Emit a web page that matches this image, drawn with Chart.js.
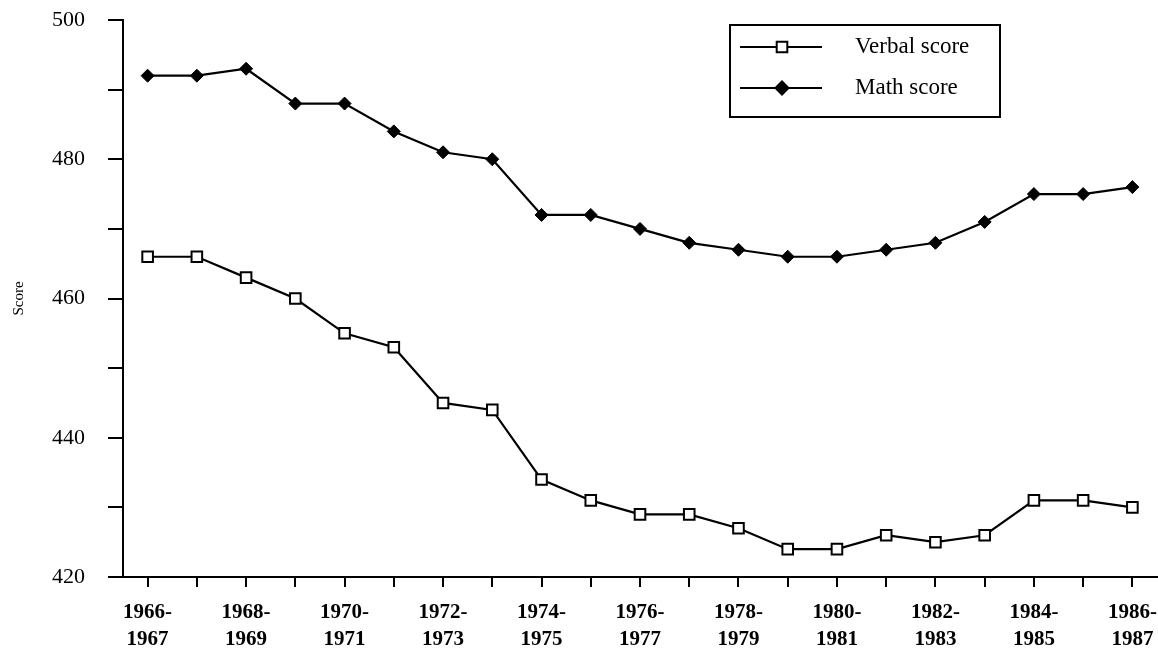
<!DOCTYPE html>
<html>
<head>
<meta charset="utf-8">
<script src="https://cdn.jsdelivr.net/npm/chart.js@4"></script>
<style>
  html, body { margin: 0; background: #fff; }
  #wrap { width: 1158px; height: 648px; }
</style>
</head>
<body>
<div id="wrap"><canvas id="chartScores"></canvas></div>
<script>
const years = ['1966-1967','1967-1968','1968-1969','1969-1970','1970-1971','1971-1972','1972-1973',
  '1973-1974','1974-1975','1975-1976','1976-1977','1977-1978','1978-1979','1979-1980','1980-1981',
  '1981-1982','1982-1983','1983-1984','1984-1985','1985-1986','1986-1987'];
const verbalScore = [466,466,463,460,455,453,445,444,434,431,429,429,427,424,424,426,425,426,431,431,430];
const mathScore = [492,492,493,488,488,484,481,480,472,472,470,468,467,466,466,467,468,471,475,475,476];
const yMin = 420, yMax = 500, yStep = 10, yLabelStep = 20;

(function initChart(){
  const ink = '#000';
  const serif = "'Liberation Serif', 'DejaVu Serif', serif";

  // boxed legend drawn in the upper right, like the original figure
  const boxLegend = {
    id: 'boxLegend',
    afterDraw(chart) {
      const ctx = chart.ctx;
      const x0 = 730, y0 = 25, w = 270, h = 92;
      ctx.save();
      ctx.strokeStyle = ink;
      ctx.lineWidth = 2;
      ctx.strokeRect(x0, y0, w, h);
      chart.data.datasets.forEach((ds, i) => {
        const y = y0 + 22 + i * 41;
        ctx.beginPath();
        ctx.moveTo(x0 + 10, y);
        ctx.lineTo(x0 + 92, y);
        ctx.lineWidth = 2;
        ctx.strokeStyle = ink;
        ctx.stroke();
        ctx.fillStyle = ds.pointBackgroundColor;
        ctx.strokeStyle = ink;
        ctx.lineWidth = 2;
        Chart.helpers.drawPoint(ctx, { pointStyle: ds.pointStyle, radius: ds.pointRadius, borderWidth: 2 }, x0 + 52, y);
        ctx.fillStyle = ink;
        ctx.font = "23px " + serif;
        ctx.textBaseline = 'middle';
        ctx.fillText(ds.label, x0 + 125, y);
      });
      ctx.restore();
    }
  };

  const ctx = document.getElementById('chartScores');
  new Chart(ctx, {
    type: 'line',
    data: {
      labels: years,
      datasets: [
        { label: 'Verbal score', data: verbalScore, borderColor: ink, borderWidth: 2.2,
          pointStyle: 'rect', pointRadius: 7.5, pointBackgroundColor: '#fff', pointBorderColor: ink, pointBorderWidth: 2,
          tension: 0, fill: false },
        { label: 'Math score', data: mathScore, borderColor: ink, borderWidth: 2.2,
          pointStyle: 'rectRot', pointRadius: 6.5, pointBackgroundColor: ink, pointBorderColor: ink, pointBorderWidth: 1,
          tension: 0, fill: false }
      ]
    },
    options: {
      responsive: true,
      maintainAspectRatio: false,
      animation: false,
      layout: { autoPadding: false, padding: { top: 20, right: 1, left: 6, bottom: 0 } },
      plugins: { legend: { display: false }, tooltip: { enabled: false } },
      scales: {
        x: {
          offset: true,
          border: { color: ink, width: 2 },
          grid: { drawOnChartArea: false, drawTicks: true, offset: false, tickLength: 10, color: ink, lineWidth: 2 },
          ticks: {
            autoSkip: false, maxRotation: 0, minRotation: 0, color: ink, padding: 12,
            font: { family: serif, size: 21, weight: 'bold', lineHeight: 1.3 },
            callback: (v, i) => {
              if (i % 2) return '';
              const parts = years[i].split('-');
              return [parts[0] + '-', parts[1]];
            }
          },
          afterFit: s => { s.height = 71; s.paddingLeft = 0; s.paddingRight = 0; }
        },
        y: {
          min: yMin, max: yMax,
          border: { color: ink, width: 2 },
          grid: { drawOnChartArea: false, drawTicks: true, tickLength: 15, color: ink, lineWidth: 2 },
          ticks: {
            stepSize: yStep, color: ink, padding: 23,
            font: { family: serif, size: 22 },
            callback: v => (v % yLabelStep === 0 ? String(v) : '')
          },
          title: { display: true, text: 'Score', color: ink, font: { family: serif, size: 15 }, padding: { top: 4, bottom: 6 } },
          afterFit: s => { s.width = 117; s.paddingTop = 0; s.paddingBottom = 0; }
        }
      }
    },
    plugins: [boxLegend]
  });
})();
</script>
</body>
</html>
